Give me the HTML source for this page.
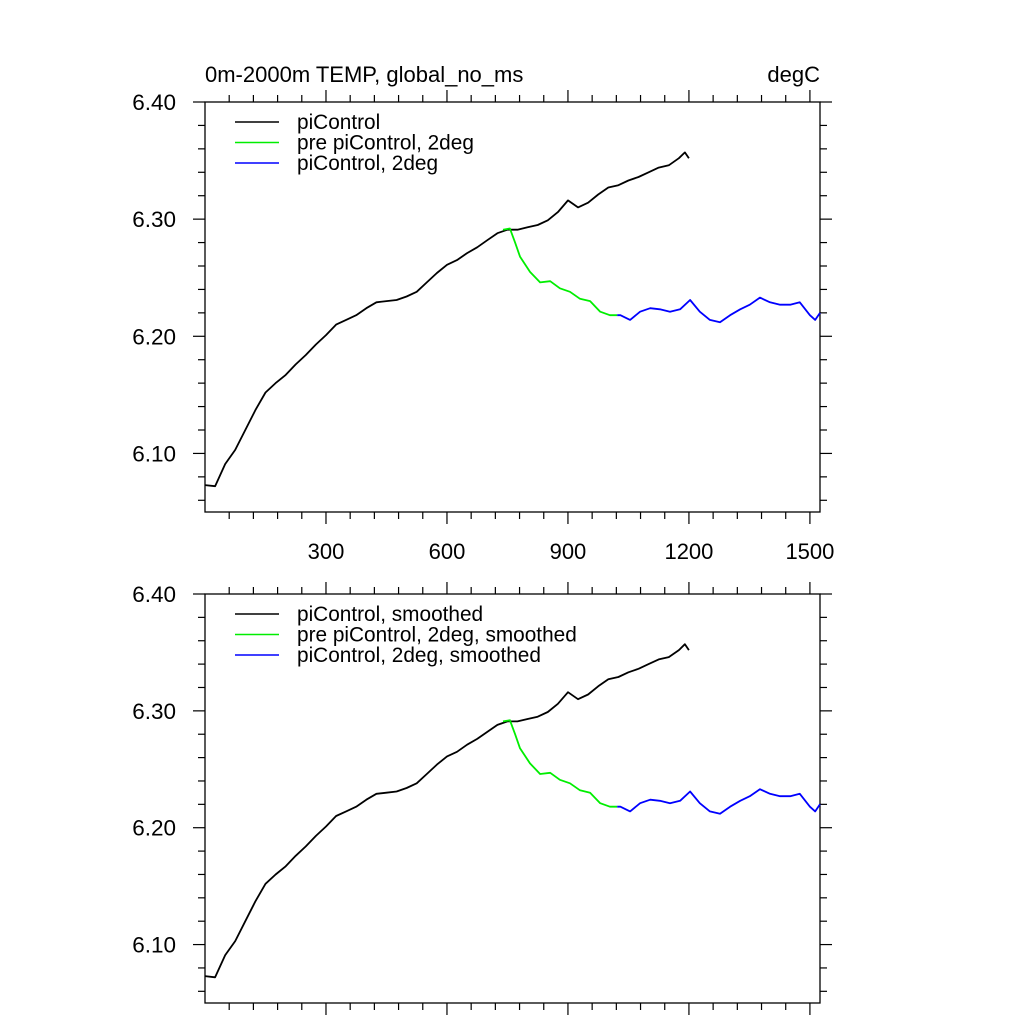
<!DOCTYPE html>
<html><head><meta charset="utf-8"><style>
body{margin:0;background:#fff}
svg text{font-family:"Liberation Sans",sans-serif;fill:#000}
</style></head><body>
<svg id="chart" width="1024" height="1024"></svg>
<script>
const blackYears=[0,25,50,75,100,125,150,175,200,225,250,275,300,325,350,375,400,425,450,475,500,525,550,575,600,625,650,675,700,725,750,775,800,825,850,875,900,925,950,975,1000,1025,1050,1075,1100,1125,1150,1175,1190,1200];
const blackVals=[6.073,6.072,6.091,6.103,6.120,6.137,6.152,6.160,6.167,6.176,6.184,6.193,6.201,6.210,6.214,6.218,6.224,6.229,6.230,6.231,6.234,6.238,6.246,6.254,6.261,6.265,6.271,6.276,6.282,6.288,6.291,6.291,6.293,6.295,6.299,6.306,6.316,6.310,6.314,6.321,6.327,6.329,6.333,6.336,6.340,6.344,6.346,6.352,6.357,6.352];
const greenYears=[739,756,769,781,806,831,856,880,905,930,955,980,1004,1022];
const greenVals=[6.291,6.292,6.280,6.268,6.255,6.246,6.247,6.241,6.238,6.232,6.230,6.221,6.218,6.218];
const blueYears=[1022,1030,1054,1079,1104,1128,1153,1178,1203,1227,1252,1277,1302,1327,1351,1376,1401,1426,1451,1475,1500,1513,1525];
const blueVals=[6.218,6.218,6.214,6.221,6.224,6.223,6.221,6.223,6.231,6.221,6.214,6.212,6.218,6.223,6.227,6.233,6.229,6.227,6.227,6.229,6.218,6.214,6.220];
const xTicks=[300,600,900,1200,1500];
const yTicks=[6.10,6.20,6.30,6.40];
const NS="http://www.w3.org/2000/svg";
const svg=document.getElementById('chart');
function mk(tag,attrs,parent){const e=document.createElementNS(NS,tag);for(const k in attrs)e.setAttribute(k,attrs[k]);(parent||svg).appendChild(e);return e;}
const X0=205,X1=820,XMIN=0,XMAX=1525;
function sx(v){return X0+(v-XMIN)/(XMAX-XMIN)*(X1-X0);}
function panel(top,bottom,showX,legendLabels,name){
  const g=mk('g',{});
  
  
  const YMIN=6.05,YMAX=6.40;
  const sy=v=>bottom-(v-YMIN)/(YMAX-YMIN)*(bottom-top);
  const f=mk('rect',{x:X0,y:top,width:X1-X0,height:bottom-top,fill:'none',stroke:'#000','stroke-width':1.3},g);
  
  
  for(let v=60;v<=XMAX;v+=60){const maj=v%300===0;const L=maj?12:7;const x=sx(v);
    mk('line',{x1:x,x2:x,y1:top,y2:top-L,stroke:'#000','stroke-width':1.2},g);
    mk('line',{x1:x,x2:x,y1:bottom,y2:bottom+L,stroke:'#000','stroke-width':1.2},g);}
  for(let i=3;i<=20;i++){const v=i*0.02;const val=6.0+v;const maj=Math.abs((val*10)-Math.round(val*10))<1e-6;const L=maj?12:7;const y=sy(val);if(y<top-0.5||y>bottom)continue;
    mk('line',{x1:X0,x2:X0-L,y1:y,y2:y,stroke:'#000','stroke-width':1.2},g);
    mk('line',{x1:X1,x2:X1+L,y1:y,y2:y,stroke:'#000','stroke-width':1.2},g);}
  yTicks.forEach(v=>{const t=mk('text',{x:X0-29,y:sy(v)+8,'text-anchor':'end','font-size':22.5},g);t.textContent=v.toFixed(2);
    
    });
  if(showX)xTicks.forEach(v=>{const t=mk('text',{x:sx(v),y:bottom+47,'text-anchor':'middle','font-size':22},g);t.textContent=v;
    
    });
  const series=[[blackYears,blackVals,'#000'],[greenYears,greenVals,'#00ee00'],[blueYears,blueVals,'#0000ff']];
  series.forEach((s,i)=>{const d=s[0].map((yr,j)=>(j?'L':'M')+sx(yr).toFixed(1)+' '+sy(s[1][j]).toFixed(1)).join(' ');
    const p=mk('path',{d:d,fill:'none',stroke:s[2],'stroke-width':1.8,'stroke-linejoin':'round'},g);
    
    
    const ly=top+20+i*20.5;
    const ll=mk('line',{x1:235,x2:279,y1:ly,y2:ly,stroke:s[2],'stroke-width':1.5},g);
    
    
    const lt=mk('text',{x:297,y:ly+7,'font-size':20.8},g);lt.textContent=legendLabels[i];
    
    });
}
panel(102,512,true,['piControl','pre piControl, 2deg','piControl, 2deg'],'top-panel');
panel(594,1003,false,['piControl, smoothed','pre piControl, 2deg, smoothed','piControl, 2deg, smoothed'],'bottom-panel');
const t1=mk('text',{x:205,y:82,'font-size':22});t1.textContent='0m-2000m TEMP, global_no_ms';


const t2=mk('text',{x:820,y:82,'font-size':22,'text-anchor':'end'});t2.textContent='degC';


</script>
</body></html>
